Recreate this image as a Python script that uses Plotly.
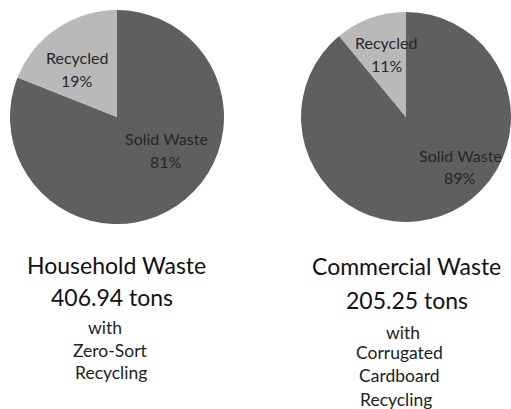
import plotly.graph_objects as go

W, H = 511, 409

# ---- data ----
slice_labels = ["Solid Waste", "Recycled"]
household_pct = [81, 19]
commercial_pct = [89, 11]
titles = ["Household Waste", "Commercial Waste"]
tonnage = ["406.94 tons", "205.25 tons"]
subtitles = [["with", "Zero-Sort", "Recycling"],
             ["with", "Corrugated", "Cardboard", "Recycling"]]

colors = ["#5f5f5f", "#b9b9b9"]
FONT = "Lato, Liberation Sans, sans-serif"

def px(x):
    return x / W

def py(y):
    return 1 - y / H

fig = go.Figure()

# pie domains (pixel geometry)
dom1 = dict(x=[px(10), px(224)], y=[py(224), py(10)])
dom2 = dict(x=[px(301), 1.0], y=[py(222), py(12)])

for vals, dom in [(household_pct, dom1), (commercial_pct, dom2)]:
    fig.add_trace(go.Pie(
        labels=slice_labels, values=vals, sort=False,
        direction="clockwise", rotation=0,
        marker=dict(colors=colors, line=dict(width=0)),
        textinfo="none", hoverinfo="label+percent",
        domain=dom, showlegend=False,
    ))

annotations = []

def add(text, x, y, size, color="#1a1a1a"):
    annotations.append(dict(
        text=text, x=px(x), y=py(y), xref="paper", yref="paper",
        xanchor="center", yanchor="middle", showarrow=False,
        font=dict(family=FONT, size=size, color=color)))

# slice labels (label + percent), positions as layout
label_pos = [
    [((166, 138), (166, 161)), ((77, 58), (77, 80))],
    [((460, 155), (460, 177)), ((386, 43), (387, 65))],
]
for p, vals in enumerate([household_pct, commercial_pct]):
    total = sum(vals)
    for i, lab in enumerate(slice_labels):
        (lx, ly), (vx, vy) = label_pos[p][i]
        add(lab, lx, ly, 16, "#262626")
        add(f"{round(100 * vals[i] / total)}%", vx, vy, 16, "#262626")

# titles under pies
title_pos = [(116, 265), (406, 266)]
ton_pos = [(112, 297), (407, 300)]
sub_pos = [[(105, 327), (110, 350), (111, 372)],
           [(403, 332), (399, 352), (399, 375), (396, 399)]]
for p in range(2):
    add(titles[p], *title_pos[p], 23, "#111111")
    add(tonnage[p], *ton_pos[p], 23, "#111111")
    for line, (sx, sy) in zip(subtitles[p], sub_pos[p]):
        add(line, sx, sy, 17.5, "#222222")

fig.update_layout(
    width=W, height=H,
    margin=dict(l=0, r=0, t=0, b=0),
    paper_bgcolor="white", plot_bgcolor="white",
    annotations=annotations,
)

fig.write_html("out.html", config={"displayModeBar": False},
               post_script="document.body.style.margin='0';")
